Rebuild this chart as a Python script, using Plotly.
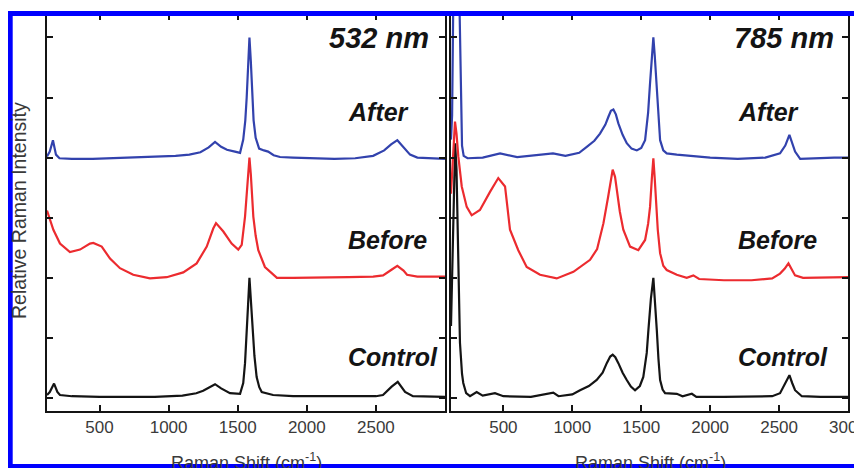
import plotly.graph_objects as go

# ---------------- data ----------------
# Raman shift (cm^-1) and plotted relative intensity (spectra are vertically offset)
# 532 nm panel
a532_w = [120, 140, 163, 185, 210, 300, 450, 600, 750, 900, 1050, 1150, 1230, 1290, 1336, 1380,
          1422, 1480, 1517, 1540, 1555, 1565, 1575, 1585, 1595, 1605, 1615, 1630, 1655, 1690,
          1720, 1760, 1806, 1900, 2050, 2200, 2350, 2480, 2560, 2610, 2655, 2700, 2747, 2800,
          2900, 3000]
a532_i = [4.02, 4.10, 4.29, 4.05, 3.99, 3.98, 3.98, 3.99, 4.00, 4.01, 4.03, 4.05, 4.09, 4.17, 4.26, 4.18,
          4.13, 4.10, 4.08, 4.30, 4.62, 5.00, 5.60, 6.00, 5.60, 5.00, 4.62, 4.33, 4.15, 4.12,
          4.10, 4.04, 4.01, 4.00, 3.99, 3.98, 3.99, 4.03, 4.12, 4.22, 4.29, 4.18, 4.05, 4.00,
          3.99, 3.98]

b532_w = [120, 135, 166, 214, 286, 359, 431, 455, 516, 576, 648, 744, 865, 986, 1106, 1203,
          1276, 1323, 1343, 1396, 1456, 1504, 1529, 1553, 1565, 1575, 1585, 1595, 1605, 1613,
          1630, 1649, 1697, 1734, 1784, 1900, 2100, 2300, 2480, 2552, 2610, 2655, 2700, 2725,
          2800, 3000]
b532_i = [3.12, 3.02, 2.80, 2.57, 2.43, 2.47, 2.57, 2.58, 2.52, 2.32, 2.16, 2.05, 1.99, 2.01, 2.09, 2.24,
          2.52, 2.82, 2.91, 2.77, 2.57, 2.47, 2.55, 3.02, 3.35, 3.75, 4.00, 3.72, 3.30, 3.02,
          2.70, 2.46, 2.18, 2.10, 2.00, 2.00, 2.00, 2.01, 2.02, 2.04, 2.13, 2.20, 2.12, 2.05,
          2.02, 2.02]

c532_w = [120, 140, 171, 195, 214, 300, 500, 700, 900, 1100, 1200, 1250, 1300, 1336, 1380, 1444,
          1517, 1540, 1553, 1565, 1575, 1585, 1597, 1609, 1621, 1637, 1656, 1674, 1756, 1900,
          2100, 2300, 2500, 2551, 2614, 2658, 2711, 2768, 2850, 3000]
c532_i = [0.05, 0.10, 0.24, 0.10, 0.05, 0.03, 0.02, 0.02, 0.02, 0.04, 0.08, 0.12, 0.18, 0.23, 0.16, 0.08,
          0.07, 0.25, 0.58, 1.02, 1.55, 2.00, 1.55, 1.13, 0.70, 0.35, 0.18, 0.10, 0.05, 0.03,
          0.03, 0.03, 0.03, 0.05, 0.19, 0.27, 0.10, 0.03, 0.03, 0.02]

# 785 nm panel
a785_w = [120, 128, 136, 150, 170, 182, 192, 200, 212, 240, 350, 476, 600, 860, 950, 1050,
          1105, 1160, 1201, 1240, 1262, 1280, 1298, 1316, 1334, 1365, 1395, 1430, 1468, 1500,
          1528, 1550, 1564, 1578, 1588, 1598, 1612, 1625, 1637, 1660, 1685, 1758, 1870, 2000,
          2200, 2400, 2507, 2545, 2575, 2600, 2616, 2653, 2750, 2900, 3000]
a785_i = [4.30, 4.70, 6.50, 9.00, 8.00, 6.50, 4.60, 4.20, 4.03, 3.99, 4.00, 4.07, 4.01, 4.07, 4.03, 4.08,
          4.18, 4.28, 4.40, 4.55, 4.68, 4.78, 4.80, 4.72, 4.57, 4.38, 4.24, 4.15, 4.12, 4.16,
          4.29, 4.75, 5.24, 5.70, 6.00, 5.70, 5.24, 4.70, 4.29, 4.12, 4.07, 4.05, 4.03, 4.00,
          3.98, 4.00, 4.07, 4.20, 4.38, 4.20, 4.10, 3.98, 3.99, 4.00, 4.00]

b785_w = [120, 135, 149, 160, 173, 198, 234, 270, 330, 403, 463, 512, 548, 608, 669, 766,
          887, 1008, 1129, 1180, 1226, 1260, 1274, 1293, 1310, 1322, 1345, 1370, 1419, 1479,
          1528, 1550, 1564, 1577, 1588, 1598, 1608, 1620, 1637, 1660, 1685, 1758, 1830, 1878,
          1920, 2100, 2300, 2450, 2507, 2540, 2568, 2595, 2616, 2674, 2850, 3000]
b785_i = [3.40, 4.10, 4.60, 4.40, 4.02, 3.52, 3.18, 3.04, 3.13, 3.43, 3.66, 3.52, 2.80, 2.46, 2.18, 2.05,
          1.99, 2.10, 2.30, 2.48, 2.91, 3.35, 3.57, 3.80, 3.68, 3.46, 3.10, 2.80, 2.52, 2.46,
          2.63, 2.90, 3.18, 3.65, 3.99, 3.65, 3.18, 2.80, 2.41, 2.20, 2.13, 2.05, 2.00, 2.04,
          1.98, 1.96, 1.96, 1.99, 2.07, 2.15, 2.24, 2.12, 2.04, 2.00, 2.00, 2.01]

c785_w = [120, 135, 150, 160, 172, 185, 200, 209, 230, 258, 306, 350, 439, 500, 700, 862,
          900, 1000, 1056, 1120, 1177, 1220, 1250, 1275, 1293, 1312, 1334, 1365, 1395, 1425,
          1455, 1490, 1515, 1540, 1552, 1570, 1588, 1600, 1613, 1625, 1637, 1655, 1673, 1758,
          1800, 1867, 1900, 2100, 2300, 2450, 2507, 2544, 2575, 2595, 2616, 2665, 2800, 3000]
c785_i = [1.20, 3.00, 4.24, 3.80, 2.20, 0.92, 0.40, 0.25, 0.08, 0.03, 0.10, 0.04, 0.08, 0.03, 0.02, 0.09,
          0.03, 0.06, 0.13, 0.20, 0.30, 0.42, 0.58, 0.69, 0.72, 0.68, 0.58, 0.42, 0.30, 0.19,
          0.13, 0.20, 0.35, 0.75, 1.13, 1.65, 2.00, 1.65, 1.13, 0.65, 0.30, 0.14, 0.08, 0.07,
          0.03, 0.07, 0.02, 0.02, 0.02, 0.03, 0.08, 0.24, 0.38, 0.25, 0.13, 0.03, 0.02, 0.02]

x_range = [120, 3000]
y_range = [-0.216, 6.39]
y_ticks = [0, 1, 2, 3, 4, 5, 6]
x_ticks_532 = [500, 1000, 1500, 2000, 2500]
x_ticks_785 = [500, 1000, 1500, 2000, 2500, 3000]
panel_titles = ["532 nm", "785 nm"]
sample_labels = ["After", "Before", "Control"]
x_title = "Raman Shift (cm<sup>-1</sup>)"
y_title = "Relative Raman Intensity"

# ---------------- styling ----------------
BLUE = "#3242ad"
RED = "#ec2b2f"
BLACK = "#141414"
GREY = "#3a3a3a"
FONT = "Arial, 'Liberation Sans', Helvetica, sans-serif"

fig = go.Figure()

series = [
    (c532_w, c532_i, BLACK, "x", "y", "Control 532"),
    (b532_w, b532_i, RED, "x", "y", "Before 532"),
    (a532_w, a532_i, BLUE, "x", "y", "After 532"),
    (c785_w, c785_i, BLACK, "x2", "y2", "Control 785"),
    (b785_w, b785_i, RED, "x2", "y2", "Before 785"),
    (a785_w, a785_i, BLUE, "x2", "y2", "After 785"),
]
for w, i, col, xa, ya, name in series:
    fig.add_trace(go.Scatter(x=w, y=i, mode="lines", name=name, xaxis=xa, yaxis=ya,
                             line=dict(color=col, width=2.2), showlegend=False,
                             hoverinfo="skip"))

# the page has an 8 px body margin, so the figure starts at (8, 8) in the window
OFF = 8
W, H = 862 - OFF, 468 - OFF
ML, MR, MT, MB = 47 - OFF, 14, 14 - OFF, 57
PW, PH = W - ML - MR, H - MT - MB

def px2paper_x(px):  # px in window coordinates
    return (px - OFF - ML) / PW

def px2paper_y(py):
    return (H - MB - (py - OFF)) / PH

axis_common = dict(range=x_range, showline=True, linecolor=BLACK, linewidth=2, mirror="ticks",
                   ticks="inside", ticklen=6, tickwidth=1.5, tickcolor=BLACK,
                   showgrid=False, zeroline=False, ticklabeloverflow="allow", automargin=False,
                   tickfont=dict(family=FONT, size=17, color=GREY))
yaxis_common = dict(range=y_range, showline=True, linecolor=BLACK, linewidth=2, mirror="ticks",
                    ticks="inside", ticklen=6, tickwidth=1.5, tickcolor=BLACK, automargin=False,
                    showgrid=False, zeroline=False, tickvals=y_ticks, showticklabels=False)

fig.update_layout(
    width=W, height=H,
    margin=dict(l=ML, r=MR, t=MT, b=MB, pad=0, autoexpand=False),
    paper_bgcolor="white", plot_bgcolor="white",
    font=dict(family=FONT, color=BLACK),
    xaxis=dict(domain=[0, px2paper_x(445)], anchor="y", tickvals=x_ticks_532,
               ticktext=[str(t) for t in x_ticks_532], **axis_common),
    xaxis2=dict(domain=[px2paper_x(451), 1.0], anchor="y2", tickvals=x_ticks_785,
                ticktext=[str(t) for t in x_ticks_785], **axis_common),
    yaxis=dict(domain=[0, 1], anchor="x", **yaxis_common),
    yaxis2=dict(domain=[0, 1], anchor="x2", **yaxis_common),
)

annotations = []
# panel titles
annotations.append(dict(text="<b><i>" + panel_titles[0] + "</i></b>", xref="paper", yref="paper",
                        x=px2paper_x(431), y=px2paper_y(38), xanchor="right", yanchor="middle",
                        showarrow=False, font=dict(family=FONT, size=29, color=BLACK)))
annotations.append(dict(text="<b><i>" + panel_titles[1] + "</i></b>", xref="paper", yref="paper",
                        x=px2paper_x(836), y=px2paper_y(38), xanchor="right", yanchor="middle",
                        showarrow=False, font=dict(family=FONT, size=29, color=BLACK)))
# sample labels
label_y = [112, 240, 357]
for lbl, ly in zip(sample_labels, label_y):
    for lx in (346, 736):
        annotations.append(dict(text="<b><i>" + lbl + "</i></b>", xref="paper", yref="paper",
                                x=px2paper_x(lx), y=px2paper_y(ly), xanchor="left", yanchor="middle",
                                showarrow=False, font=dict(family=FONT, size=25, color=BLACK)))
# axis titles
for cx in (246, 650):
    annotations.append(dict(text=x_title, xref="paper", yref="paper",
                            x=px2paper_x(cx), y=px2paper_y(461), xanchor="center", yanchor="middle",
                            showarrow=False, font=dict(family=FONT, size=18, color=GREY)))
annotations.append(dict(text=y_title, xref="paper", yref="paper", textangle=-90,
                        x=px2paper_x(19), y=px2paper_y(211), xanchor="center", yanchor="middle",
                        showarrow=False, font=dict(family=FONT, size=19.5, color=GREY)))
fig.update_layout(annotations=annotations)

# blue frame around the picture
fig.add_shape(type="rect", xref="paper", yref="paper", layer="above",
              x0=px2paper_x(10.2), x1=px2paper_x(860.5), y0=px2paper_y(466.5), y1=px2paper_y(13.5),
              line=dict(color="#0000ff", width=5), fillcolor="rgba(0,0,0,0)")

fig.write_html("out.html")
